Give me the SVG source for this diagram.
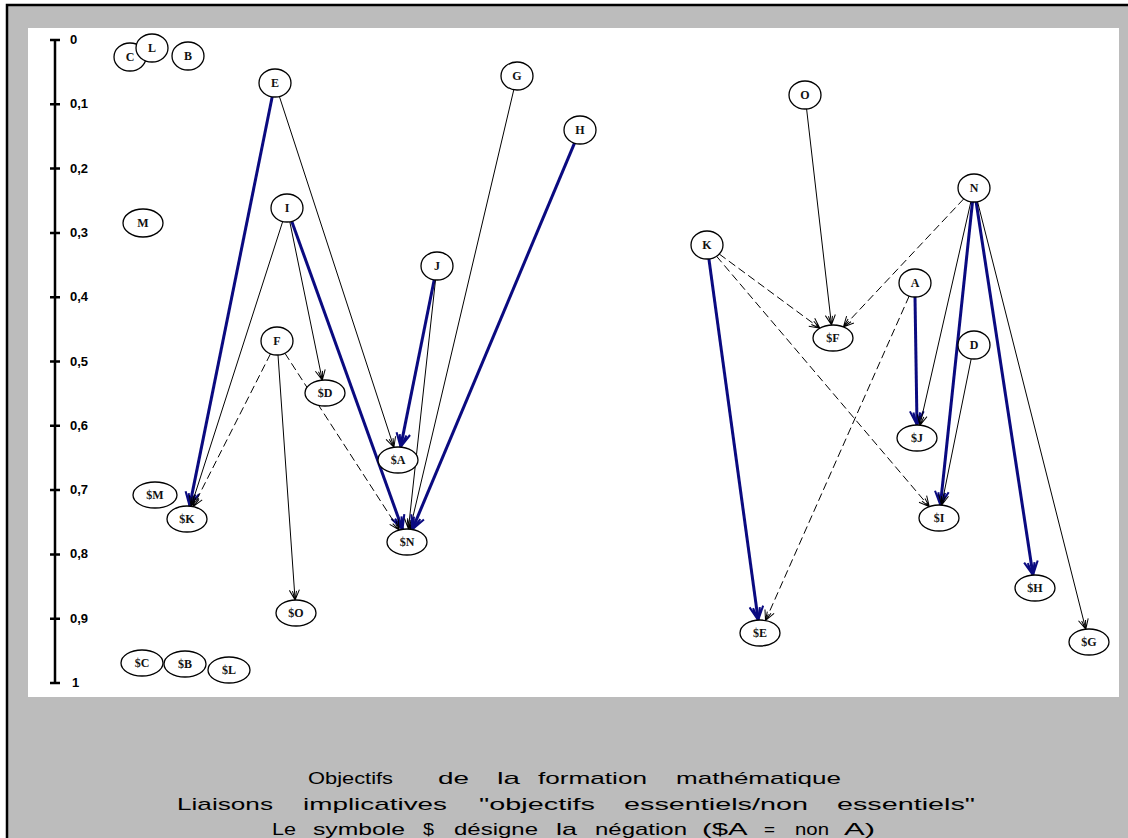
<svg xmlns="http://www.w3.org/2000/svg" width="1128" height="838" viewBox="0 0 1128 838">
<defs>
<style>
.ax{stroke:#000;stroke-width:2.5;fill:none}
.tl{font-family:"Liberation Sans",Arial,sans-serif;font-weight:bold;font-size:13px;fill:#000}
.nd ellipse{fill:#fff;stroke:#000;stroke-width:1.3}
.nd text{font-family:"Liberation Serif","Times New Roman",serif;font-size:12px;font-weight:bold;fill:#111;text-anchor:middle}
.th{stroke:#000;stroke-width:1;fill:none;marker-end:url(#mk)}
.bl{stroke:#0a0a80;stroke-width:3;fill:none;marker-end:url(#mb)}
.da{stroke:#000;stroke-width:1;fill:none;stroke-dasharray:8,4;marker-end:url(#mk)}
.cap{font-family:"Liberation Sans",Arial,sans-serif;font-size:17px;fill:#000}
</style>
<marker id="mk" viewBox="0 0 12 12" refX="11" refY="6" markerWidth="12" markerHeight="12" markerUnits="userSpaceOnUse" orient="auto"><path d="M1,1 L11,6 L1,11 M2,4 L11,6 L2,8" fill="none" stroke="#000" stroke-width="1"/></marker>
<marker id="mb" viewBox="0 0 14 14" refX="13" refY="7" markerWidth="16" markerHeight="16" markerUnits="userSpaceOnUse" orient="auto"><path d="M1,1 L13,7 L1,13 M2,4 L13,7 L2,10" fill="none" stroke="#0a0a80" stroke-width="1.8"/></marker>
</defs>
<rect x="7" y="5" width="1130" height="840" fill="#bcbcbc" stroke="#000" stroke-width="2.5"/>
<rect x="28" y="28" width="1091" height="669" fill="#fff"/>
<g id="axis">
<line class="ax" x1="55" y1="40" x2="55" y2="683"/>
<path class="ax" d="M50,40H60M50,104.3H60M50,168.6H60M50,232.9H60M50,297.2H60M50,361.5H60M50,425.8H60M50,490.1H60M50,554.4H60M50,618.7H60M50,683H60"/>
<text class="tl" x="70" y="44">0</text>
<text class="tl" x="70" y="108">0,1</text>
<text class="tl" x="70" y="173">0,2</text>
<text class="tl" x="70" y="237">0,3</text>
<text class="tl" x="70" y="301">0,4</text>
<text class="tl" x="70" y="366">0,5</text>
<text class="tl" x="70" y="430">0,6</text>
<text class="tl" x="70" y="494">0,7</text>
<text class="tl" x="70" y="558">0,8</text>
<text class="tl" x="70" y="623">0,9</text>
<text class="tl" x="72" y="687">1</text>
</g>
<g id="connectors">
<line class="bl" x1="272.2" y1="96.8" x2="189.6" y2="506.1"/>
<line class="th" x1="279.4" y1="96.5" x2="393.9" y2="447.3"/>
<line class="th" x1="282.7" y1="221.5" x2="191.1" y2="506.3"/>
<line class="th" x1="289.8" y1="221.8" x2="322.3" y2="380.1"/>
<line class="bl" x1="291.8" y1="221.4" x2="402.5" y2="529.3"/>
<line class="da" x1="270.5" y1="353.8" x2="193.2" y2="506.6"/>
<line class="th" x1="278" y1="355" x2="295.1" y2="600"/>
<line class="da" x1="284.9" y1="353.2" x2="399.3" y2="530"/>
<line class="bl" x1="434.2" y1="279.8" x2="400.6" y2="447.1"/>
<line class="th" x1="435.5" y1="280" x2="408.4" y2="529"/>
<line class="th" x1="513.8" y1="89.7" x2="410" y2="529.2"/>
<line class="bl" x1="574.5" y1="143.1" x2="412.3" y2="529.5"/>
<line class="th" x1="806.6" y1="109" x2="831.5" y2="325"/>
<line class="da" x1="719.2" y1="254" x2="819.8" y2="328.2"/>
<line class="da" x1="716.5" y1="256.2" x2="929.3" y2="506.6"/>
<line class="bl" x1="708.9" y1="258.9" x2="758.2" y2="620.1"/>
<line class="da" x1="963.8" y1="198.8" x2="843.4" y2="326.9"/>
<line class="da" x1="909.2" y1="296" x2="765.5" y2="620.6"/>
<line class="bl" x1="915" y1="297" x2="917" y2="425"/>
<line class="th" x1="970.9" y1="201.7" x2="919.9" y2="425.3"/>
<line class="bl" x1="972.5" y1="201.9" x2="940.4" y2="505.1"/>
<line class="th" x1="971.2" y1="358.8" x2="941.6" y2="505.1"/>
<line class="bl" x1="976.1" y1="201.8" x2="1033" y2="575.1"/>
<line class="th" x1="977.5" y1="201.6" x2="1085.8" y2="629.2"/>
</g>
<g id="nC" class="nd"><ellipse cx="130" cy="57" rx="16" ry="14"/><text x="130" y="61">C</text></g>
<g id="nL" class="nd"><ellipse cx="152" cy="48" rx="16" ry="14"/><text x="152" y="52">L</text></g>
<g id="nB" class="nd"><ellipse cx="188" cy="56" rx="16" ry="14"/><text x="188" y="60">B</text></g>
<g id="nE" class="nd"><ellipse cx="275" cy="83" rx="16" ry="14"/><text x="275" y="87">E</text></g>
<g id="nG" class="nd"><ellipse cx="517" cy="76" rx="16" ry="14"/><text x="517" y="80">G</text></g>
<g id="nH" class="nd"><ellipse cx="580" cy="130" rx="16" ry="14"/><text x="580" y="134">H</text></g>
<g id="nI" class="nd"><ellipse cx="287" cy="208" rx="16" ry="14"/><text x="287" y="212">I</text></g>
<g id="nM" class="nd"><ellipse cx="143" cy="223" rx="20" ry="14"/><text x="143" y="227">M</text></g>
<g id="nJ" class="nd"><ellipse cx="437" cy="266" rx="16" ry="14"/><text x="437" y="270">J</text></g>
<g id="nF" class="nd"><ellipse cx="277" cy="341" rx="16" ry="14"/><text x="277" y="345">F</text></g>
<g id="nnD" class="nd"><ellipse cx="325" cy="393" rx="20" ry="13"/><text x="325" y="397">$D</text></g>
<g id="nnA" class="nd"><ellipse cx="398" cy="460" rx="20" ry="13"/><text x="398" y="464">$A</text></g>
<g id="nnM" class="nd"><ellipse cx="155" cy="495" rx="22" ry="13"/><text x="155" y="499">$M</text></g>
<g id="nnK" class="nd"><ellipse cx="187" cy="519" rx="20" ry="13"/><text x="187" y="523">$K</text></g>
<g id="nnN" class="nd"><ellipse cx="407" cy="542" rx="20" ry="13"/><text x="407" y="546">$N</text></g>
<g id="nnO" class="nd"><ellipse cx="296" cy="613" rx="20" ry="13"/><text x="296" y="617">$O</text></g>
<g id="nnC" class="nd"><ellipse cx="142" cy="663" rx="21" ry="13"/><text x="142" y="667">$C</text></g>
<g id="nnB" class="nd"><ellipse cx="185" cy="664" rx="21" ry="13"/><text x="185" y="668">$B</text></g>
<g id="nnL" class="nd"><ellipse cx="229" cy="670" rx="21" ry="13"/><text x="229" y="674">$L</text></g>
<g id="nO" class="nd"><ellipse cx="805" cy="95" rx="16" ry="14"/><text x="805" y="99">O</text></g>
<g id="nN" class="nd"><ellipse cx="974" cy="188" rx="16" ry="14"/><text x="974" y="192">N</text></g>
<g id="nK" class="nd"><ellipse cx="707" cy="245" rx="16" ry="14"/><text x="707" y="249">K</text></g>
<g id="nA" class="nd"><ellipse cx="915" cy="283" rx="16" ry="14"/><text x="915" y="287">A</text></g>
<g id="nnF" class="nd"><ellipse cx="833" cy="338" rx="20" ry="13"/><text x="833" y="342">$F</text></g>
<g id="nD" class="nd"><ellipse cx="974" cy="345" rx="16" ry="14"/><text x="974" y="349">D</text></g>
<g id="nnJ" class="nd"><ellipse cx="917" cy="438" rx="20" ry="13"/><text x="917" y="442">$J</text></g>
<g id="nnI" class="nd"><ellipse cx="939" cy="518" rx="20" ry="13"/><text x="939" y="522">$I</text></g>
<g id="nnE" class="nd"><ellipse cx="760" cy="633" rx="20" ry="13"/><text x="760" y="637">$E</text></g>
<g id="nnH" class="nd"><ellipse cx="1035" cy="588" rx="20" ry="13"/><text x="1035" y="592">$H</text></g>
<g id="nnG" class="nd"><ellipse cx="1089" cy="642" rx="20" ry="13"/><text x="1089" y="646">$G</text></g>
<g id="caption">
<text class="cap" y="784"><tspan x="308" textLength="85" lengthAdjust="spacingAndGlyphs">Objectifs</tspan> <tspan x="438" textLength="31" lengthAdjust="spacingAndGlyphs">de</tspan> <tspan x="497" textLength="23" lengthAdjust="spacingAndGlyphs">la</tspan> <tspan x="538" textLength="109" lengthAdjust="spacingAndGlyphs">formation</tspan> <tspan x="676" textLength="165" lengthAdjust="spacingAndGlyphs">mathématique</tspan></text>
<text class="cap" y="810"><tspan x="177" textLength="96" lengthAdjust="spacingAndGlyphs">Liaisons</tspan> <tspan x="303" textLength="144" lengthAdjust="spacingAndGlyphs">implicatives</tspan> <tspan x="479" textLength="116" lengthAdjust="spacingAndGlyphs">"objectifs</tspan> <tspan x="624" textLength="184" lengthAdjust="spacingAndGlyphs">essentiels/non</tspan> <tspan x="837" textLength="138" lengthAdjust="spacingAndGlyphs">essentiels"</tspan></text>
<text class="cap" y="835"><tspan x="272" textLength="24" lengthAdjust="spacingAndGlyphs">Le</tspan> <tspan x="313" textLength="92" lengthAdjust="spacingAndGlyphs">symbole</tspan> <tspan x="423" textLength="11" lengthAdjust="spacingAndGlyphs">$</tspan> <tspan x="454" textLength="84" lengthAdjust="spacingAndGlyphs">désigne</tspan> <tspan x="556" textLength="21" lengthAdjust="spacingAndGlyphs">la</tspan> <tspan x="595" textLength="92" lengthAdjust="spacingAndGlyphs">négation</tspan> <tspan x="702" textLength="44" lengthAdjust="spacingAndGlyphs">($A</tspan> <tspan x="764" textLength="11" lengthAdjust="spacingAndGlyphs">=</tspan> <tspan x="795" textLength="34" lengthAdjust="spacingAndGlyphs">non</tspan> <tspan x="844" textLength="31" lengthAdjust="spacingAndGlyphs">A)</tspan></text>
</g>
</svg>
